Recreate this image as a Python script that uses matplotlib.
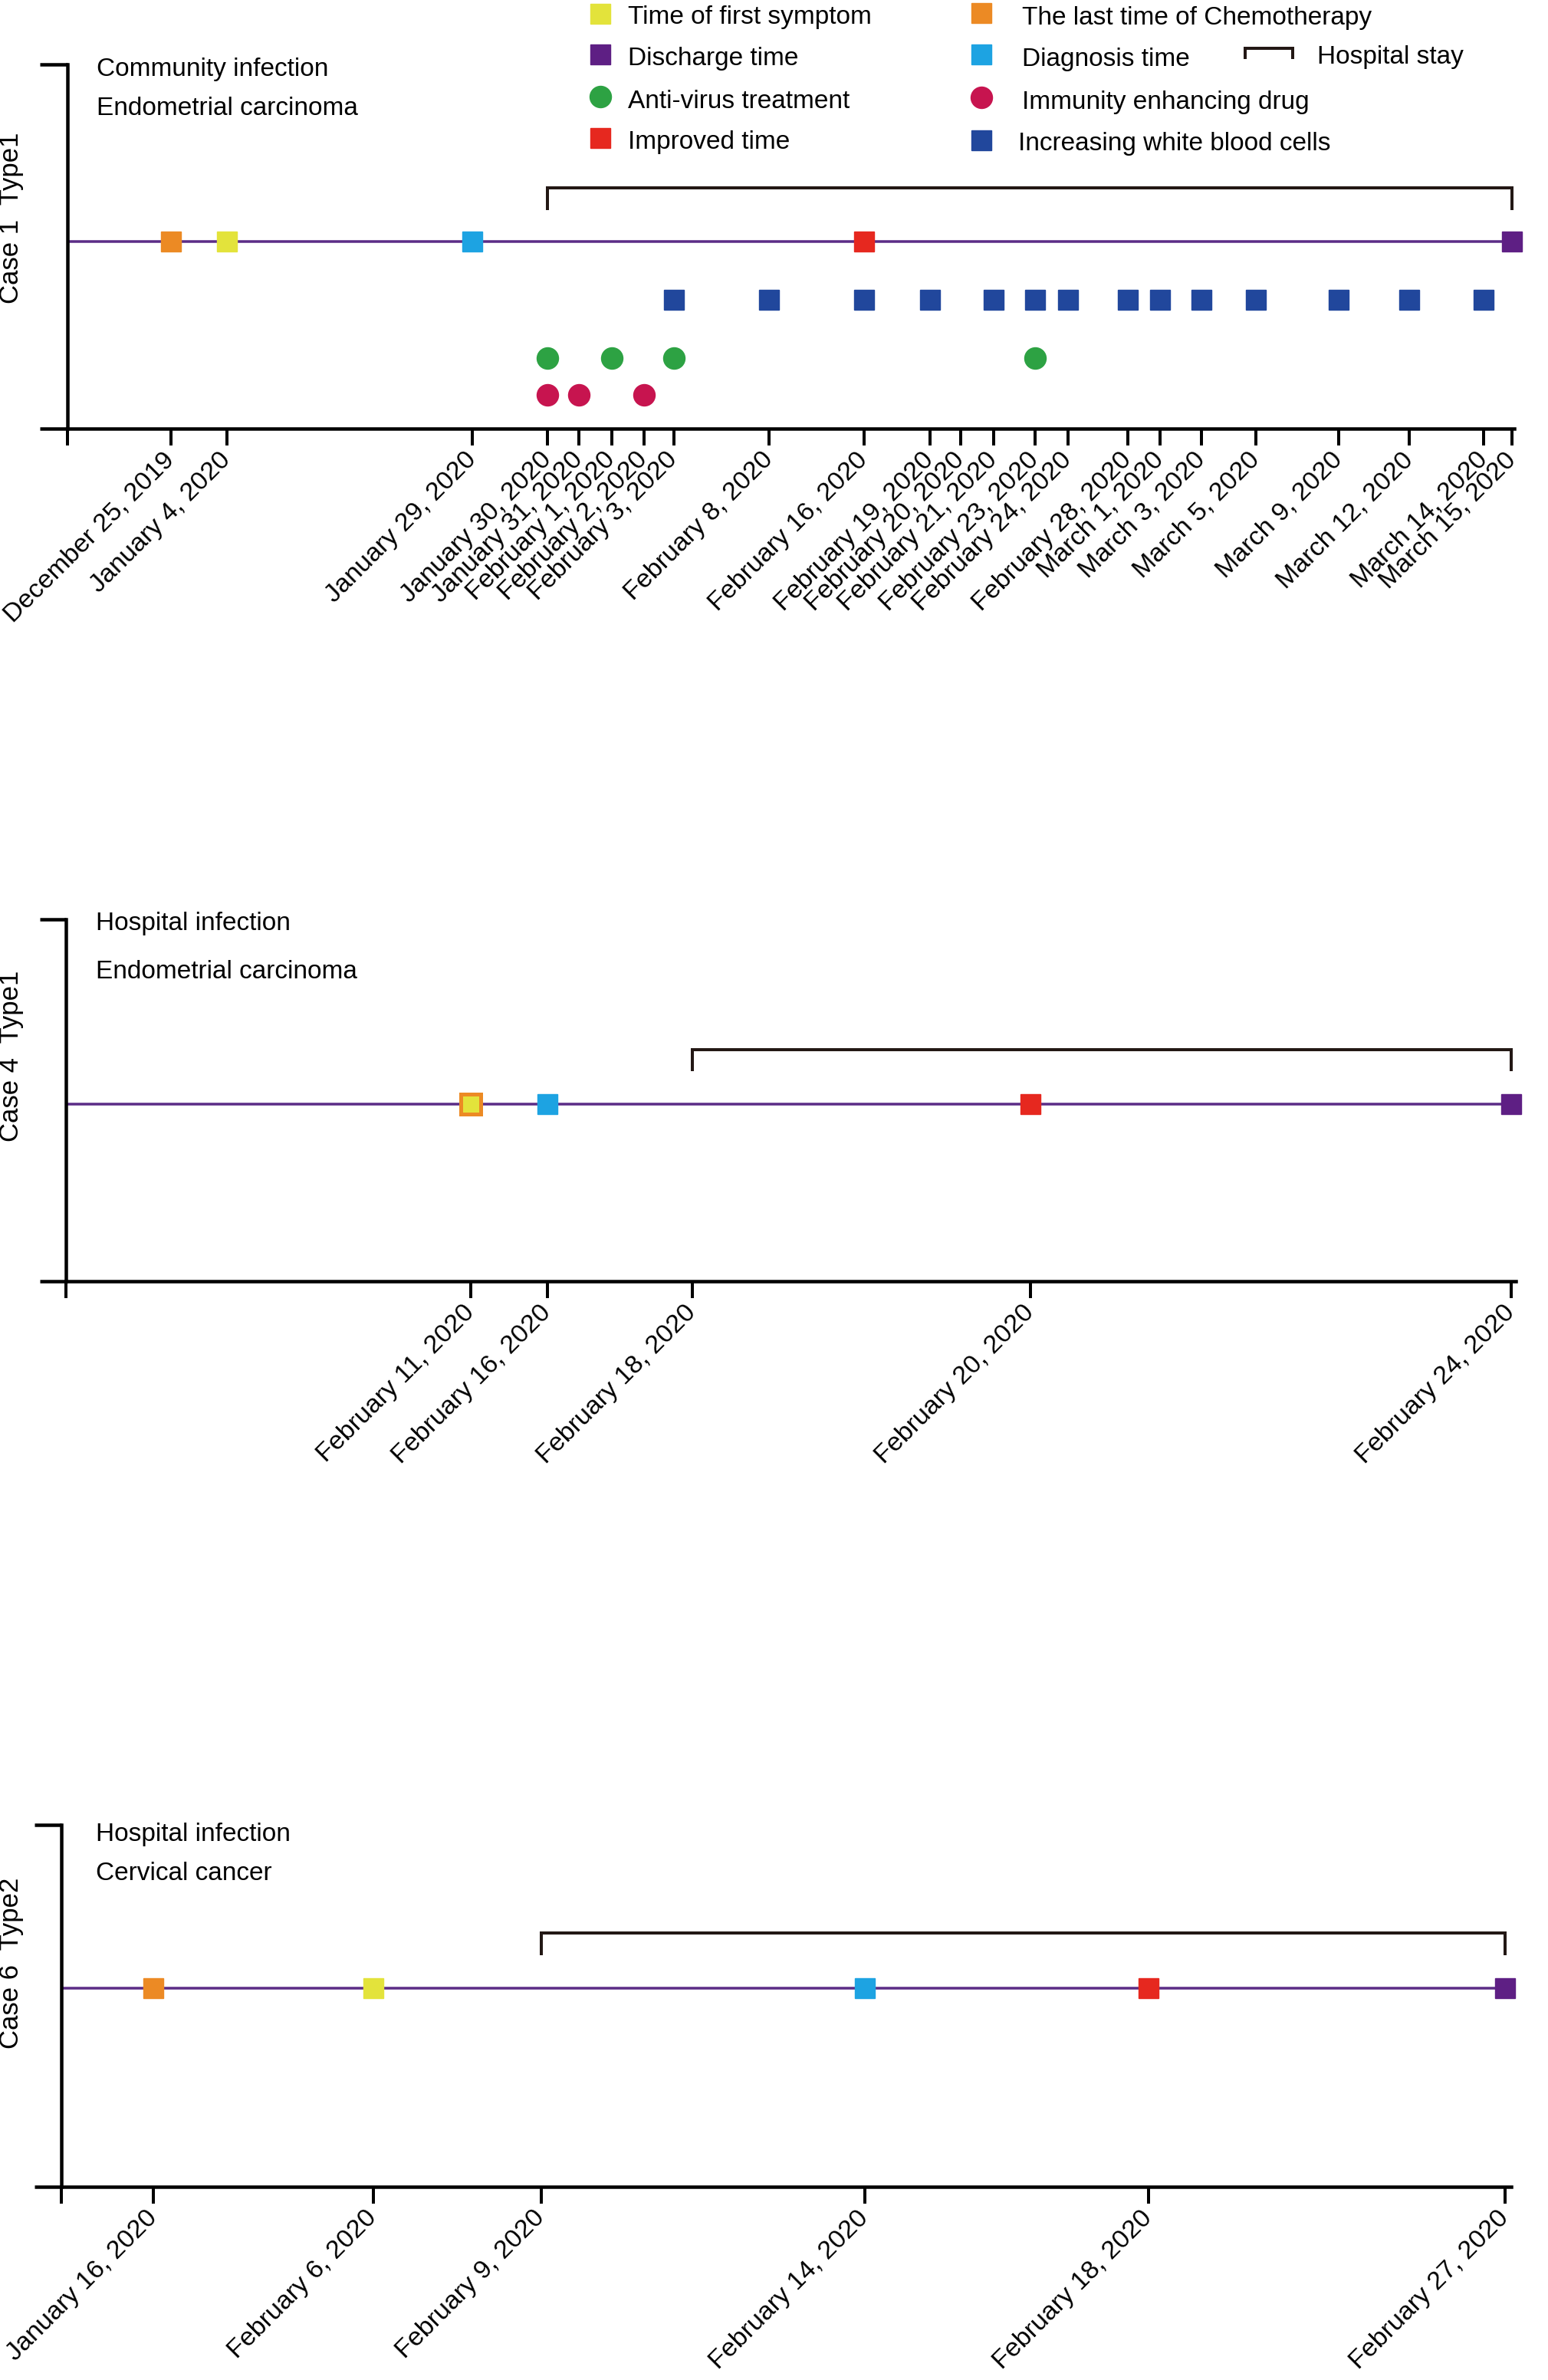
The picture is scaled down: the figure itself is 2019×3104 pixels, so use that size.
import matplotlib
matplotlib.use("Agg")
import matplotlib.pyplot as plt

plt.rcParams['font.family'] = ['Liberation Sans', 'DejaVu Sans']

W, H, DPI = 2019, 3104, 100
PT = 72.0 / DPI  # points per pixel

# ---------------- data ----------------
# Case 1 (timeline axis: non-linear, position units 0-100)
case1_dates = ["December 25, 2019", "January 4, 2020", "January 29, 2020", "January 30, 2020",
               "January 31, 2020", "February 1, 2020", "February 2, 2020", "February 3, 2020",
               "February 8, 2020", "February 16, 2020", "February 19, 2020", "February 20, 2020",
               "February 21, 2020", "February 23, 2020", "February 24, 2020", "February 28, 2020",
               "March 1, 2020", "March 3, 2020", "March 5, 2020", "March 9, 2020",
               "March 12, 2020", "March 14, 2020", "March 15, 2020"]
case1_pos = [7.15, 11.0, 28.0, 33.2, 35.35, 37.6, 39.85, 41.9, 48.5, 55.05, 59.6, 61.75,
             64.0, 66.9, 69.15, 73.3, 75.5, 78.4, 82.15, 87.85, 92.75, 97.9, 99.85]
case1_chemo = ["December 25, 2019"]
case1_symptom = ["January 4, 2020"]
case1_diagnosis = ["January 29, 2020"]
case1_improved = ["February 16, 2020"]
case1_discharge = ["March 15, 2020"]
case1_stay = ["January 30, 2020", "March 15, 2020"]
case1_antivirus = ["January 30, 2020", "February 1, 2020", "February 3, 2020", "February 23, 2020"]
case1_immunity = ["January 30, 2020", "January 31, 2020", "February 2, 2020"]
case1_wbc = ["February 3, 2020", "February 8, 2020", "February 16, 2020", "February 19, 2020",
             "February 21, 2020", "February 23, 2020", "February 24, 2020", "February 28, 2020",
             "March 1, 2020", "March 3, 2020", "March 5, 2020", "March 9, 2020",
             "March 12, 2020", "March 14, 2020"]

# Case 4
case4_dates = ["February 11, 2020", "February 16, 2020", "February 18, 2020",
               "February 20, 2020", "February 24, 2020"]
case4_pos = [27.9, 33.2, 43.2, 66.5, 99.7]
case4_chemo = ["February 11, 2020"]
case4_symptom = ["February 11, 2020"]
case4_diagnosis = ["February 16, 2020"]
case4_improved = ["February 20, 2020"]
case4_discharge = ["February 24, 2020"]
case4_stay = ["February 18, 2020", "February 24, 2020"]

# Case 6
case6_dates = ["January 16, 2020", "February 6, 2020", "February 9, 2020",
               "February 14, 2020", "February 18, 2020", "February 27, 2020"]
case6_pos = [6.35, 21.5, 33.1, 55.4, 75.0, 99.6]
case6_chemo = ["January 16, 2020"]
case6_symptom = ["February 6, 2020"]
case6_diagnosis = ["February 14, 2020"]
case6_improved = ["February 18, 2020"]
case6_discharge = ["February 27, 2020"]
case6_stay = ["February 9, 2020", "February 27, 2020"]

case_labels = ["Case 1  Type1", "Case 4  Type1", "Case 6  Type2"]
case_infection = ["Community infection", "Hospital infection", "Hospital infection"]
case_cancer = ["Endometrial carcinoma", "Endometrial carcinoma", "Cervical cancer"]

legend_labels = ["Time of first symptom", "Discharge time", "Anti-virus treatment", "Improved time",
                 "The last time of Chemotherapy", "Diagnosis time", "Immunity enhancing drug",
                 "Increasing white blood cells"]

# ---------------- style ----------------
C_YELLOW = "#E3E33B"
C_ORANGE = "#EC8A24"
C_PURPLE = "#5E1F84"
C_GREEN = "#2DA243"
C_RED = "#E6281F"
C_CYAN = "#1DA3E2"
C_MAGENTA = "#C7144F"
C_NAVY = "#21479C"
C_LINE = "#5B2C86"
C_BRACKET = "#231815"

MS = 27 * PT         # marker size
SPINE_W = 4.5 * PT
BR_W = 4 * PT
FS_TEXT = 24
FS_TICK = 24.5
FS_YLAB = 25

# panel layout in pixels
panels = [
    dict(spine=88, end=1975, top=84, bottom=559, stub=36, line=0.514, btop=0.661, bfoot=0.600,
         wbc=0.354, green=0.194, mag=0.093, ylab=284, tx=126, tb1=99, tb2=150),
    dict(spine=86, end=1977, top=1199, bottom=1671, stub=34, line=0.489, btop=0.640, bfoot=0.580,
         ylab=1377, tx=125, tb1=1213, tb2=1276),
    dict(spine=80, end=1971, top=2380, bottom=2852, stub=35, line=0.549, btop=0.701, bfoot=0.640,
         ylab=2560, tx=125, tb1=2401, tb2=2452),
]

cases = [
    dict(dates=case1_dates, pos=case1_pos, chemo=case1_chemo, symptom=case1_symptom,
         diagnosis=case1_diagnosis, improved=case1_improved, discharge=case1_discharge,
         stay=case1_stay, antivirus=case1_antivirus, immunity=case1_immunity, wbc=case1_wbc),
    dict(dates=case4_dates, pos=case4_pos, chemo=case4_chemo, symptom=case4_symptom,
         diagnosis=case4_diagnosis, improved=case4_improved, discharge=case4_discharge,
         stay=case4_stay, antivirus=[], immunity=[], wbc=[]),
    dict(dates=case6_dates, pos=case6_pos, chemo=case6_chemo, symptom=case6_symptom,
         diagnosis=case6_diagnosis, improved=case6_improved, discharge=case6_discharge,
         stay=case6_stay, antivirus=[], immunity=[], wbc=[]),
]

fig = plt.figure(figsize=(W / DPI, H / DPI), dpi=DPI)
fig.patch.set_facecolor("white")

overlay = fig.add_axes([0, 0, 1, 1])
overlay.set_xlim(0, W)
overlay.set_ylim(H, 0)
overlay.axis("off")
overlay.patch.set_alpha(0)

for i, (lay, cs) in enumerate(zip(panels, cases)):
    left = lay["spine"] / W
    width = (lay["end"] - lay["spine"]) / W
    bottom = 1 - lay["bottom"] / H
    height = (lay["bottom"] - lay["top"]) / H
    ax = fig.add_axes([left, bottom, width, height])
    ax.set_xlim(0, 100)
    ax.set_ylim(0, 1)
    ax.patch.set_alpha(0)
    for s in ("top", "right"):
        ax.spines[s].set_visible(False)
    for s in ("left", "bottom"):
        ax.spines[s].set_linewidth(SPINE_W)
        ax.spines[s].set_color("black")
        ax.spines[s].set_capstyle("projecting")

    lookup = dict(zip(cs["dates"], cs["pos"]))
    xs = lambda lst: [lookup[d] for d in lst]

    ax.set_xticks([0] + list(cs["pos"]))
    ax.set_xticklabels([""] + list(cs["dates"]), rotation=45, ha="right", va="center",
                       rotation_mode="anchor", fontsize=FS_TICK)
    ax.tick_params(axis="x", length=22 * PT, width=4 * PT, direction="out", pad=10, color="black")
    ax.set_yticks([0, 1])
    ax.set_yticklabels(["", ""])
    ax.tick_params(axis="y", length=lay["stub"] * PT, width=SPINE_W, direction="out")

    yl = lay["line"]
    kw = dict(clip_on=False)
    # timeline
    x_end = xs(cs["discharge"])[0]
    ax.plot([0, x_end], [yl, yl], color=C_LINE, lw=3.5 * PT, zorder=2, solid_capstyle="butt", **kw)
    # hospital stay bracket
    s0, s1 = xs(cs["stay"])
    ax.plot([s0, s0, s1, s1], [lay["bfoot"], lay["btop"], lay["btop"], lay["bfoot"]],
            color=C_BRACKET, lw=BR_W, solid_joinstyle="miter", solid_capstyle="butt", zorder=2, **kw)

    # events on timeline
    same = cs["chemo"] == cs["symptom"]
    ax.plot(xs(cs["chemo"]), [yl] * len(cs["chemo"]), "s", ms=MS, color=C_ORANGE, zorder=3, **kw)
    if same:
        ax.plot(xs(cs["symptom"]), [yl], "s", ms=MS, mfc=C_YELLOW, mec=C_ORANGE, mew=5 * PT,
                zorder=4, **kw)
    else:
        ax.plot(xs(cs["symptom"]), [yl], "s", ms=MS, color=C_YELLOW, zorder=3, **kw)
    ax.plot(xs(cs["diagnosis"]), [yl], "s", ms=MS, color=C_CYAN, zorder=3, **kw)
    ax.plot(xs(cs["improved"]), [yl], "s", ms=MS, color=C_RED, zorder=3, **kw)
    ax.plot(xs(cs["discharge"]), [yl], "s", ms=MS, color=C_PURPLE, zorder=3, **kw)

    if cs["wbc"]:
        ax.plot(xs(cs["wbc"]), [lay["wbc"]] * len(cs["wbc"]), "s", ms=MS, color=C_NAVY, ls="none",
                zorder=3, **kw)
    if cs["antivirus"]:
        ax.plot(xs(cs["antivirus"]), [lay["green"]] * len(cs["antivirus"]), "o", ms=28 * PT,
                color=C_GREEN, ls="none", zorder=3, **kw)
    if cs["immunity"]:
        ax.plot(xs(cs["immunity"]), [lay["mag"]] * len(cs["immunity"]), "o", ms=28 * PT,
                color=C_MAGENTA, ls="none", zorder=3, **kw)

    # texts
    overlay.text(15, lay["ylab"], case_labels[i], rotation=90, ha="center", va="center",
                 fontsize=FS_YLAB)
    overlay.text(lay["tx"], lay["tb1"], case_infection[i], ha="left", va="baseline", fontsize=FS_TEXT)
    overlay.text(lay["tx"], lay["tb2"], case_cancer[i], ha="left", va="baseline", fontsize=FS_TEXT)

# ---------------- legend ----------------
leg_markers = [("s", C_YELLOW), ("s", C_PURPLE), ("o", C_GREEN), ("s", C_RED),
               ("s", C_ORANGE), ("s", C_CYAN), ("o", C_MAGENTA), ("s", C_NAVY)]
leg_mx = [783, 783, 783, 783, 1280, 1280, 1280, 1280]
leg_my = [18, 71, 126, 180, 17, 71, 127, 183]
leg_tx = [819, 819, 819, 819, 1333, 1333, 1333, 1328]
leg_tb = [31, 85, 141, 194, 32, 86, 142, 196]
for (m, c), mx, my, tx, tb, lab in zip(leg_markers, leg_mx, leg_my, leg_tx, leg_tb, legend_labels):
    overlay.plot([mx], [my], m, ms=(27 if m == "s" else 28) * PT, color=c)
    overlay.text(tx, tb, lab, ha="left", va="baseline", fontsize=FS_TEXT)
overlay.plot([1624, 1624, 1686, 1686], [77, 63, 63, 77], color=C_BRACKET, lw=BR_W,
             solid_joinstyle="miter", solid_capstyle="butt")
overlay.text(1718, 83, "Hospital stay", ha="left", va="baseline", fontsize=FS_TEXT)

fig.savefig("out.png", dpi=DPI, facecolor="white")
